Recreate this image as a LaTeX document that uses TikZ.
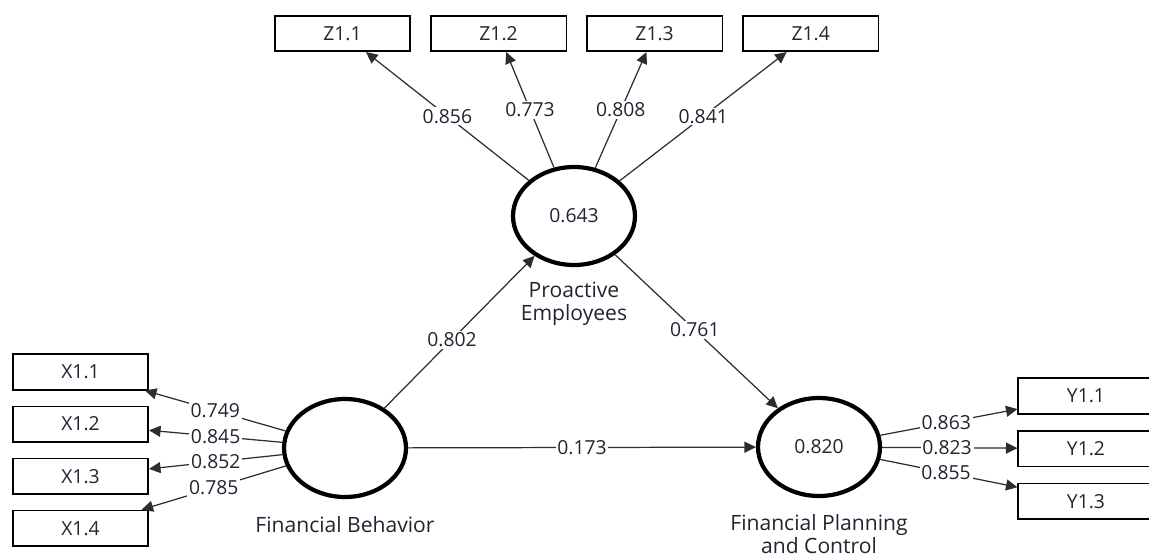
\documentclass[tikz,border=0pt]{standalone}
\usepackage{fontspec}
\setmainfont{Open Sans}
\usepackage{xcolor}
\usepackage{tikz}
\usetikzlibrary{arrows.meta,positioning,shapes.geometric}
\definecolor{inkdark}{RGB}{35,35,50}
\definecolor{linegray}{RGB}{45,45,45}
\tikzset{
 indicator/.style={
 rectangle,
 draw=black,
 line width=0.9pt,
 minimum width=2.71cm,
 minimum height=0.71cm,
 inner sep=0pt,
 text=inkdark,
 font=\fontsize{11}{13}\selectfont
 },
 latent/.style={
 ellipse,
 draw=black,
 line width=2.4pt,
 minimum width=2.44cm,
 minimum height=1.96cm,
 inner sep=0pt,
 text=inkdark,
 font=\fontsize{11}{13}\selectfont
 },
 caption/.style={
 align=center,
 inner sep=0pt,
 text=inkdark,
 font=\fontsize{12}{13}\selectfont
 },
 weight/.style={
 fill=white,
 inner sep=1pt,
 text=inkdark,
 font=\fontsize{11}{13}\selectfont
 },
 patharrow/.style={-{Triangle[length=2.3mm,width=2.2mm]}, line width=0.7pt, draw=linegray}
}

\begin{document}
\begin{tikzpicture}[x=0.02cm, y=-0.02cm, node distance=3mm and 3.8mm]
 \useasboundingbox (0,0) rectangle (1149,558);
 % latent variables
 \node[latent] (pe) at (574,216) {0.643};
 \node[latent] (fb) at (345,448) {};
 \node[latent] (fpc) at (819,447) {0.820};
 \node[caption, below=3mm of pe] (pecap) {Proactive\\Employees};
 \node[caption, below=3.4mm of fb] (fbcap) {Financial Behavior};
 \node[caption, below=3.2mm of fpc] (fpccap) {Financial Planning\\and Control};
 % indicators
 \node[indicator] (z1) at (342.5,33.5) {Z1.1};
 \node[indicator, right=of z1] (z2) {Z1.2};
 \node[indicator, right=of z2] (z3) {Z1.3};
 \node[indicator, right=of z3] (z4) {Z1.4};
 \node[indicator] (x1) at (80.5,372) {X1.1};
 \node[indicator, below=of x1] (x2) {X1.2};
 \node[indicator, below=of x2] (x3) {X1.3};
 \node[indicator, below=of x3] (x4) {X1.4};
 \node[indicator] (y1) at (1086,396) {Y1.1};
 \node[indicator, below=3.1mm of y1] (y2) {Y1.2};
 \node[indicator, below=3.1mm of y2] (y3) {Y1.3};
 % outer loadings
 \draw[patharrow] (pe) -- node[weight] {0.856} (z1);
 \draw[patharrow] (pe) -- node[weight] {0.773} (z2);
 \draw[patharrow] (pe) -- node[weight] {0.808} (z3);
 \draw[patharrow] (pe) -- node[weight] {0.841} (z4);
 \draw[patharrow] (fb) -- node[weight] {0.749} (x1);
 \draw[patharrow] (fb) -- node[weight] {0.845} (x2);
 \draw[patharrow] (fb) -- node[weight] {0.852} (x3);
 \draw[patharrow] (fb) -- node[weight] {0.785} (x4);
 \draw[patharrow] (fpc) -- node[weight, pos=0.48] {0.863} (y1);
 \draw[patharrow] (fpc) -- node[weight, pos=0.48] {0.823} (y2);
 \draw[patharrow] (fpc) -- node[weight, pos=0.48] {0.855} (y3);
 % inner paths
 \draw[patharrow] (fb) -- node[weight, pos=0.45] {0.802} (pe);
 \draw[patharrow] (pe) -- node[weight, pos=0.49] {0.761} (fpc);
 \draw[patharrow] (fb) -- node[weight] {0.173} (fpc);
\end{tikzpicture}
\end{document}
